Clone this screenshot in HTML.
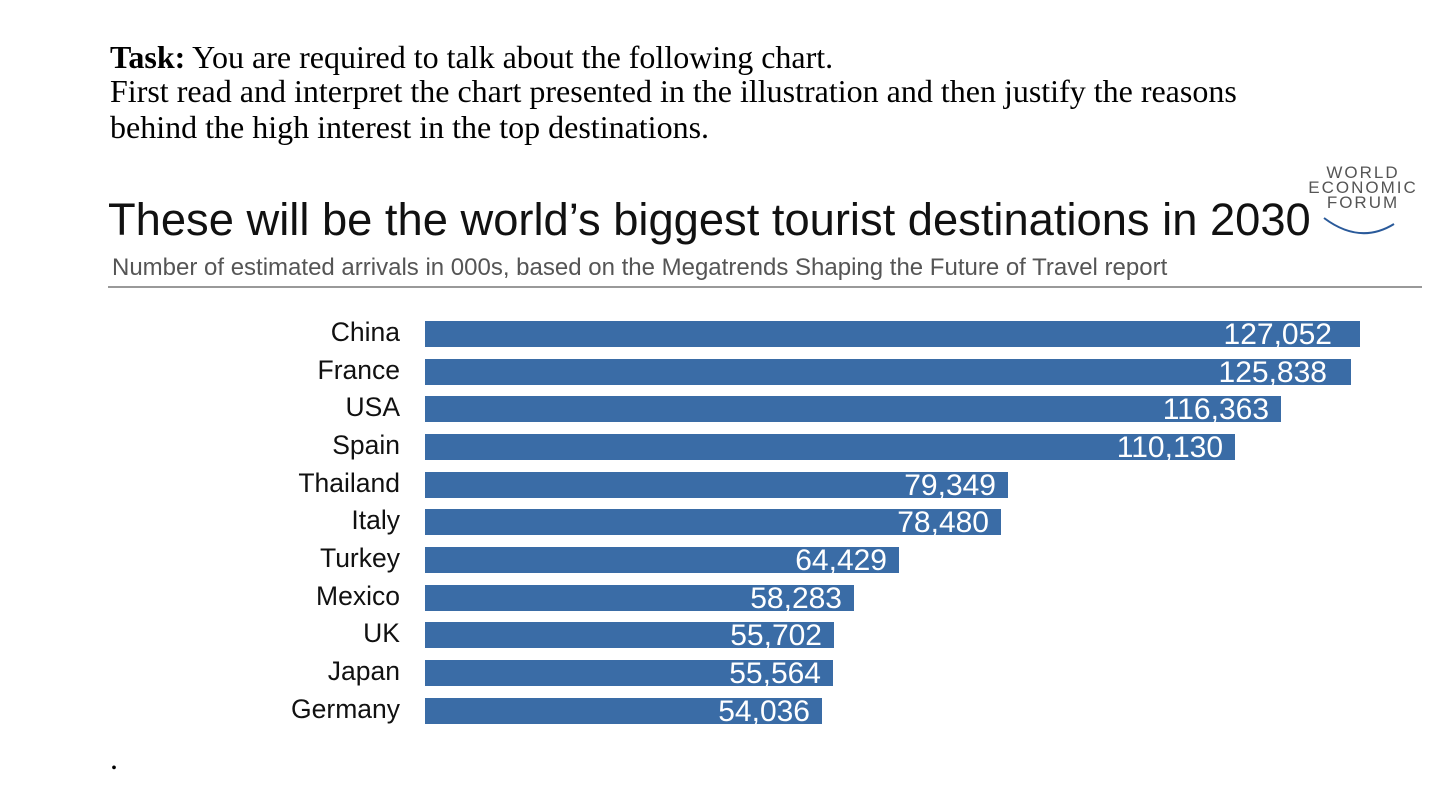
<!DOCTYPE html>
<html><head><style>
body{margin:0;width:1447px;height:789px;background:#fff;position:relative;overflow:hidden}
.t{position:absolute;font-family:"Liberation Serif",serif;font-size:32px;color:#000;left:110px;white-space:nowrap}
.s{position:absolute;font-family:"Liberation Sans",sans-serif;white-space:nowrap}
.lab{position:absolute;right:1047px;font-family:"Liberation Sans",sans-serif;font-size:26.5px;color:#111;text-align:right}
.bar{position:absolute;left:425px;height:26px;background:#3a6ca6}
.v{position:absolute;right:14px;top:-3px;font-family:"Liberation Sans",sans-serif;font-size:30px;color:#fff;line-height:34px}
</style></head><body>
<div class="t" style="top:39px"><b>Task:</b> You are required to talk about the following chart.</div>
<div class="t" style="top:73px">First read and interpret the chart presented in the illustration and then justify the reasons</div>
<div class="t" style="top:109px">behind the high interest in the top destinations.</div>
<div class="t" style="top:740px">.</div>
<div class="s" style="left:108px;top:194px;font-size:45.3px;color:#111">These will be the world’s biggest tourist destinations in 2030</div>
<div class="s" style="left:112px;top:254px;font-size:24px;color:#555">Number of estimated arrivals in 000s, based on the Megatrends Shaping the Future of Travel report</div>
<div style="position:absolute;left:108px;top:286px;width:1314px;height:2px;background:#999"></div>
<div class="s" style="left:1300px;top:165px;font-size:17px;color:#555;line-height:15px;text-align:center;letter-spacing:2px;width:126px">WORLD<br>ECONOMIC<br>FORUM</div>
<svg style="position:absolute;left:1320px;top:200px" width="80" height="40"><path d="M4 18 Q40 45 74 24" stroke="#2a5a9a" stroke-width="2" fill="none"/></svg>
<div class="lab" style="top:317px">China</div><div class="bar" style="top:321px;width:935px"><span class="v" style="right:28px">127,052</span></div>
<div class="lab" style="top:355px">France</div><div class="bar" style="top:359px;width:926px"><span class="v" style="right:24px">125,838</span></div>
<div class="lab" style="top:392px">USA</div><div class="bar" style="top:396px;width:856px"><span class="v" style="right:12px">116,363</span></div>
<div class="lab" style="top:430px">Spain</div><div class="bar" style="top:434px;width:810px"><span class="v" style="right:12px">110,130</span></div>
<div class="lab" style="top:468px">Thailand</div><div class="bar" style="top:472px;width:583px"><span class="v" style="right:12px">79,349</span></div>
<div class="lab" style="top:505px">Italy</div><div class="bar" style="top:509px;width:576px"><span class="v" style="right:12px">78,480</span></div>
<div class="lab" style="top:543px">Turkey</div><div class="bar" style="top:547px;width:474px"><span class="v" style="right:12px">64,429</span></div>
<div class="lab" style="top:581px">Mexico</div><div class="bar" style="top:585px;width:429px"><span class="v" style="right:12px">58,283</span></div>
<div class="lab" style="top:618px">UK</div><div class="bar" style="top:622px;width:409px"><span class="v" style="right:12px">55,702</span></div>
<div class="lab" style="top:656px">Japan</div><div class="bar" style="top:660px;width:408px"><span class="v" style="right:12px">55,564</span></div>
<div class="lab" style="top:694px">Germany</div><div class="bar" style="top:698px;width:397px"><span class="v" style="right:12px">54,036</span></div>
</body></html>
